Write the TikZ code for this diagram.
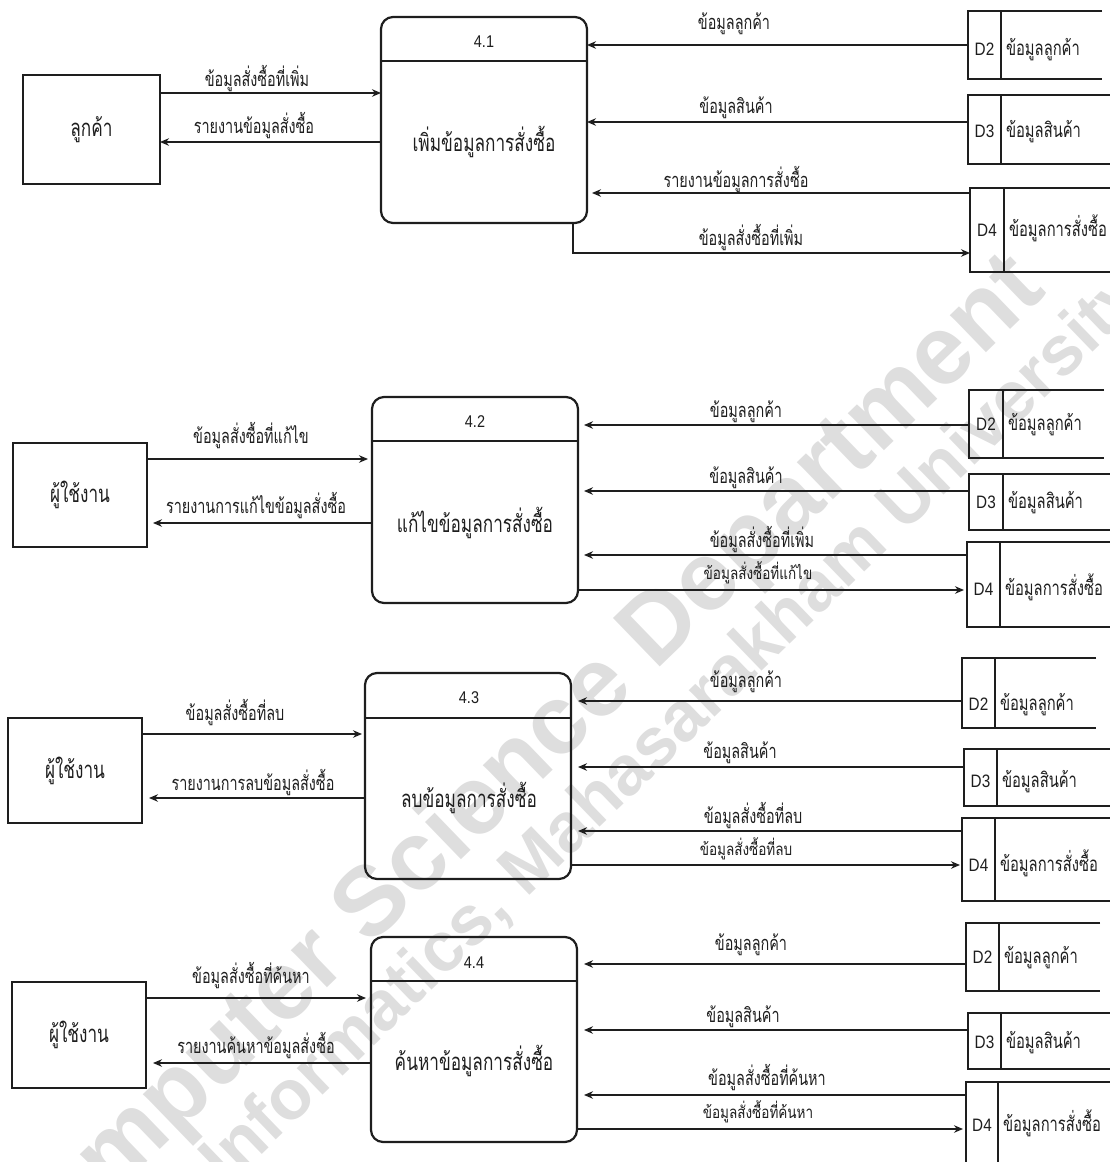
\documentclass[tikz,border=0pt]{standalone}
\usepackage{fontspec}
\usetikzlibrary{arrows.meta,calc}
\setmainfont{Liberation Sans}
\newfontfamily\thaifont[Script=Thai,FakeStretch=0.72]{Loma}
\newfontfamily\thaismall[Script=Thai,FakeStretch=0.8]{Loma}
\newfontfamily\latfont[FakeStretch=0.85]{Liberation Sans}
\definecolor{ink}{HTML}{1E1E1E}
\definecolor{wmgray}{HTML}{DEDEDE}

\newcommand\lblfont{\thaifont\fontsize{20}{23}\selectfont}
\newcommand\smallfont{\thaismall\fontsize{16.9}{19}\selectfont}
\newcommand\mainfont{\thaifont\fontsize{23.9}{27}\selectfont}
\newcommand\storefont{\thaifont\fontsize{20.5}{23}\selectfont}

\tikzset{
  x=1pt, y=-1pt,
  every node/.style={inner sep=0pt, outer sep=0pt, text=ink},
  thinline/.style={draw=ink, line width=1.2pt},
  flow/.style={draw=ink, line width=1.2pt, -{Stealth[length=9pt,width=7.5pt]}},
  entity/.style={draw=ink, line width=1.2pt, anchor=north west, font=\mainfont},
  process/.style={draw=ink, line width=2.2pt, rounded corners=12pt, anchor=north west,
                  minimum width=206pt, minimum height=206pt},
  divider/.style={draw=ink, line width=2.2pt},
  storebox/.style={anchor=north west},
  lbl/.style={anchor=base, font=\lblfont},
  slbl/.style={anchor=base, font=\smallfont},
  ptitle/.style={anchor=base, font=\latfont\fontsize{17}{20}\selectfont},
  pmain/.style={anchor=base, font=\mainfont},
  sid/.style={anchor=base, font=\latfont\fontsize{18}{20}\selectfont},
  sname/.style={anchor=base west, font=\storefont},
  wm/.style={text=wmgray, rotate=44},
}

% open-ended data store: name, left, top, right, bottom, divider x, id, title, baseline
\newcommand\dfdstore[9]{%
  \node[storebox, minimum width={(#4-#2)*1pt}, minimum height={(#5-#3)*1pt}] (#1) at (#2,#3) {};
  \draw[thinline] (#1.north east) -- (#1.north west) -- (#1.south west) -- (#1.south east);
  \draw[thinline] (#1.north west -| #6,0) -- (#1.south west -| #6,0);
  \node[sid] (#1-id) at ({(#2+#6)/2},#9) {#7};
  \node[sname] (#1-nm) at ({#6+5},#9) {#8};
}

\begin{document}
\begin{tikzpicture}
\useasboundingbox (0,0) rectangle (1110,1162);

% faint diagonal watermark
\begin{scope}
  \clip (0,0) rectangle (1110,1162);
  \node[wm, font=\bfseries\fontsize{98}{98}\selectfont] (wm-a) at (515,772) {Computer Science Department};
  \node[wm, font=\bfseries\fontsize{70}{70}\selectfont] (wm-b) at (675,730) {Informatics, Mahasarakham University};
\end{scope}

% ---------------- 4.1 add order ----------------
\node[entity, minimum width=137pt, minimum height=109pt] (e1) at (23,75) {ลูกค้า};
\node[process] (p1) at (381,17) {};
\draw[divider] ($(p1.north west)+(0,44)$) -- ($(p1.north east)+(0,44)$);
\node[ptitle] (p1-id) at (484,47) {4.1};
\node[pmain] (p1-nm) at (484,151) {เพิ่มข้อมูลการสั่งซื้อ};

\dfdstore{s1a}{968}{11}{1102}{79}{1001}{D2}{ข้อมูลลูกค้า}{55}
\dfdstore{s1b}{968}{95}{1112}{164}{1001}{D3}{ข้อมูลสินค้า}{137}
\dfdstore{s1c}{970}{188}{1112}{272}{1004}{D4}{ข้อมูลการสั่งซื้อ}{236}

\coordinate (e1-out) at ($(e1.north east)+(0,18)$);
\coordinate (e1-in)  at ($(e1.north east)+(0,67)$);
\coordinate (s1a-p) at ($(s1a.north west)+(0,34)$);
\coordinate (s1b-p) at ($(s1b.north west)+(0,27)$);
\coordinate (s1c-p) at ($(s1c.north west)+(0,5)$);
\coordinate (s1c-q) at ($(s1c.north west)+(0,65)$);

\draw[flow] (e1-out) -- (e1-out -| p1.west);
\draw[flow] (e1-in -| p1.west) -- (e1-in);
\draw[flow] (s1a-p) -- (s1a-p -| p1.east);
\draw[flow] (s1b-p) -- (s1b-p -| p1.east);
\draw[flow] (s1c-p) -- ([xshift=5pt]s1c-p -| p1.east);
\draw[flow] ([xshift=89pt]p1.south) |- (s1c-q);

\node[lbl] (l1a) at (257,86) {ข้อมูลสั่งซื้อที่เพิ่ม};
\node[lbl] (l1b) at (254,133) {รายงานข้อมูลสั่งซื้อ};
\node[lbl] (l1c) at (734,29) {ข้อมูลลูกค้า};
\node[lbl] (l1d) at (736,113) {ข้อมูลสินค้า};
\node[lbl] (l1e) at (736,187) {รายงานข้อมูลการสั่งซื้อ};
\node[lbl] (l1f) at (751,245) {ข้อมูลสั่งซื้อที่เพิ่ม};

% ---------------- 4.2 edit order ----------------
\node[entity, minimum width=134pt, minimum height=104pt] (e2) at (13,443) {ผู้ใช้งาน};
\node[process] (p2) at (372,397) {};
\draw[divider] ($(p2.north west)+(0,44)$) -- ($(p2.north east)+(0,44)$);
\node[ptitle] (p2-id) at (475,427) {4.2};
\node[pmain] (p2-nm) at (475,532) {แก้ไขข้อมูลการสั่งซื้อ};

\dfdstore{s2a}{969}{390}{1104}{458}{1003}{D2}{ข้อมูลลูกค้า}{430}
\dfdstore{s2b}{969}{474}{1112}{530}{1003}{D3}{ข้อมูลสินค้า}{508}
\dfdstore{s2c}{967}{542}{1112}{627}{1000}{D4}{ข้อมูลการสั่งซื้อ}{595}

\coordinate (e2-out) at ($(e2.north east)+(0,16)$);
\coordinate (e2-in)  at ($(e2.north east)+(0,80)$);
\coordinate (s2a-p) at ($(s2a.north west)+(0,35)$);
\coordinate (s2b-p) at ($(s2b.north west)+(0,17)$);
\coordinate (s2c-p) at ($(s2c.north west)+(0,13)$);
\coordinate (s2c-q) at ($(s2c.north west)+(0,48)$);

\draw[flow] (e2-out) -- ([xshift=-4pt]e2-out -| p2.west);
\draw[flow] (e2-in -| p2.west) -- ([xshift=6pt]e2-in);
\draw[flow] (s2a-p) -- ([xshift=6pt]s2a-p -| p2.east);
\draw[flow] (s2b-p) -- ([xshift=6pt]s2b-p -| p2.east);
\draw[flow] (s2c-p) -- ([xshift=6pt]s2c-p -| p2.east);
\draw[flow] (s2c-q -| p2.east) -- ([xshift=-3pt]s2c-q);

\node[lbl] (l2a) at (251,443) {ข้อมูลสั่งซื้อที่แก้ไข};
\node[lbl] (l2b) at (256,513) {รายงานการแก้ไขข้อมูลสั่งซื้อ};
\node[lbl] (l2c) at (746,417) {ข้อมูลลูกค้า};
\node[lbl] (l2d) at (746,483) {ข้อมูลสินค้า};
\node[lbl] (l2e) at (762,547) {ข้อมูลสั่งซื้อที่เพิ่ม};
\node[slbl] (l2f) at (758,579) {ข้อมูลสั่งซื้อที่แก้ไข};

% ---------------- 4.3 delete order ----------------
\node[entity, minimum width=134pt, minimum height=105pt] (e3) at (8,718) {ผู้ใช้งาน};
\node[process] (p3) at (365,673) {};
\draw[divider] ($(p3.north west)+(0,45)$) -- ($(p3.north east)+(0,45)$);
\node[ptitle] (p3-id) at (469,703) {4.3};
\node[pmain] (p3-nm) at (469,807) {ลบข้อมูลการสั่งซื้อ};

\dfdstore{s3a}{962}{658}{1096}{728}{995}{D2}{ข้อมูลลูกค้า}{710}
\dfdstore{s3b}{964}{749}{1112}{806}{997}{D3}{ข้อมูลสินค้า}{787}
\dfdstore{s3c}{962}{818}{1112}{901}{995}{D4}{ข้อมูลการสั่งซื้อ}{871}

\coordinate (e3-out) at ($(e3.north east)+(0,16)$);
\coordinate (e3-in)  at ($(e3.north east)+(0,80)$);
\coordinate (s3a-p) at ($(s3a.north west)+(0,43)$);
\coordinate (s3b-p) at ($(s3b.north west)+(0,18)$);
\coordinate (s3c-p) at ($(s3c.north west)+(0,13)$);
\coordinate (s3c-q) at ($(s3c.north west)+(0,47)$);

\draw[flow] (e3-out) -- ([xshift=-3pt]e3-out -| p3.west);
\draw[flow] (e3-in -| p3.west) -- ([xshift=7pt]e3-in);
\draw[flow] (s3a-p) -- ([xshift=7pt]s3a-p -| p3.east);
\draw[flow] (s3b-p) -- ([xshift=7pt]s3b-p -| p3.east);
\draw[flow] (s3c-p) -- ([xshift=7pt]s3c-p -| p3.east);
\draw[flow] (s3c-q -| p3.east) -- ([xshift=-2pt]s3c-q);

\node[lbl] (l3a) at (235,720) {ข้อมูลสั่งซื้อที่ลบ};
\node[lbl] (l3b) at (253,790) {รายงานการลบข้อมูลสั่งซื้อ};
\node[lbl] (l3c) at (746,687) {ข้อมูลลูกค้า};
\node[lbl] (l3d) at (740,758) {ข้อมูลสินค้า};
\node[lbl] (l3e) at (753,823) {ข้อมูลสั่งซื้อที่ลบ};
\node[slbl] (l3f) at (746,855) {ข้อมูลสั่งซื้อที่ลบ};

% ---------------- 4.4 search order ----------------
\node[entity, minimum width=134pt, minimum height=106pt] (e4) at (12,982) {ผู้ใช้งาน};
\node[process, minimum height=205pt] (p4) at (371,937) {};
\draw[divider] ($(p4.north west)+(0,44)$) -- ($(p4.north east)+(0,44)$);
\node[ptitle] (p4-id) at (474,968) {4.4};
\node[pmain] (p4-nm) at (474,1070) {ค้นหาข้อมูลการสั่งซื้อ};

\dfdstore{s4a}{966}{923}{1100}{991}{999}{D2}{ข้อมูลลูกค้า}{963}
\dfdstore{s4b}{968}{1013}{1112}{1069}{1001}{D3}{ข้อมูลสินค้า}{1048}
\dfdstore{s4c}{966}{1082}{1112}{1175}{998}{D4}{ข้อมูลการสั่งซื้อ}{1131}

\coordinate (e4-out) at ($(e4.north east)+(0,16)$);
\coordinate (e4-in)  at ($(e4.north east)+(0,81)$);
\coordinate (s4a-p) at ($(s4a.north west)+(0,41)$);
\coordinate (s4b-p) at ($(s4b.north west)+(0,17)$);
\coordinate (s4c-p) at ($(s4c.north west)+(0,13)$);
\coordinate (s4c-q) at ($(s4c.north west)+(0,47)$);

\draw[flow] (e4-out) -- ([xshift=-5pt]e4-out -| p4.west);
\draw[flow] (e4-in -| p4.west) -- ([xshift=7pt]e4-in);
\draw[flow] (s4a-p) -- ([xshift=7pt]s4a-p -| p4.east);
\draw[flow] (s4b-p) -- ([xshift=7pt]s4b-p -| p4.east);
\draw[flow] (s4c-p) -- ([xshift=7pt]s4c-p -| p4.east);
\draw[flow] (s4c-q -| p4.east) -- ([xshift=-3pt]s4c-q);

\node[lbl] (l4a) at (251,983) {ข้อมูลสั่งซื้อที่ค้นหา};
\node[lbl] (l4b) at (256,1053) {รายงานค้นหาข้อมูลสั่งซื้อ};
\node[lbl] (l4c) at (751,950) {ข้อมูลลูกค้า};
\node[lbl] (l4d) at (743,1022) {ข้อมูลสินค้า};
\node[lbl] (l4e) at (767,1085) {ข้อมูลสั่งซื้อที่ค้นหา};
\node[slbl] (l4f) at (758,1118) {ข้อมูลสั่งซื้อที่ค้นหา};
\end{tikzpicture}
\end{document}
